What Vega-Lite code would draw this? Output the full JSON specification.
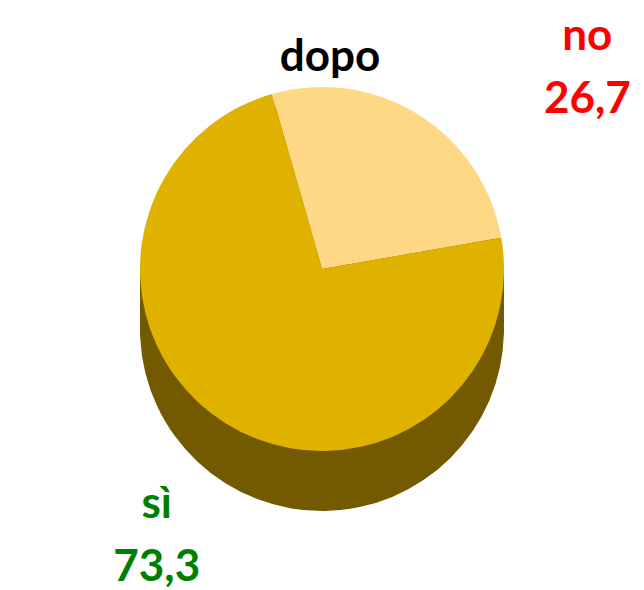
{
  "$schema": "https://vega.github.io/schema/vega-lite/v6.json",
  "width": 644,
  "height": 590,
  "autosize": {"type": "fit", "contains": "padding"},
  "padding": 0,
  "background": "white",
  "title": {"text": "dopo", "fontSize": 44, "font": "Lato", "fontWeight": "bold", "color": "black", "anchor": "middle", "offset": -62, "dx": 8, "dy": 18},
  "config": {
    "view": {"stroke": null},
    "locale": {"number": {"decimal": ",", "thousands": ".", "grouping": [3], "currency": ["", " €"]}}
  },
  "data": {"values": [
    {"esito": "no", "valore": 26.7},
    {"esito": "sì", "valore": 73.3}
  ]},
  "resolve": {"scale": {"theta": "independent", "color": "independent"}},
  "layer": [
    {
      "mark": {"type": "arc", "outerRadius": 182, "yOffset": 35, "color": "#735A00"},
      "encoding": {"theta": {"field": "valore", "type": "quantitative", "stack": true, "scale": {"range": [-0.279, 6.004]}}}
    },
    {
      "mark": {"type": "arc", "outerRadius": 182, "yOffset": 24, "color": "#735A00"},
      "encoding": {"theta": {"field": "valore", "type": "quantitative", "stack": true, "scale": {"range": [-0.279, 6.004]}}}
    },
    {
      "mark": {"type": "arc", "outerRadius": 182, "yOffset": 12, "color": "#735A00"},
      "encoding": {"theta": {"field": "valore", "type": "quantitative", "stack": true, "scale": {"range": [-0.279, 6.004]}}}
    },
    {
      "mark": {"type": "arc", "outerRadius": 182, "yOffset": 0, "color": "#735A00"},
      "encoding": {"theta": {"field": "valore", "type": "quantitative", "stack": true, "scale": {"range": [-0.279, 6.004]}}}
    },
    {
      "mark": {"type": "arc", "outerRadius": 182, "yOffset": -12, "color": "#735A00"},
      "encoding": {"theta": {"field": "valore", "type": "quantitative", "stack": true, "scale": {"range": [-0.279, 6.004]}}}
    },
    {
      "mark": {"type": "arc", "outerRadius": 182, "yOffset": -25},
      "encoding": {
        "theta": {"field": "valore", "type": "quantitative", "stack": true, "scale": {"range": [-0.279, 6.004]}},
        "color": {"field": "esito", "type": "nominal", "scale": {"domain": ["no", "sì"], "range": ["#FED884", "#E0B200"]}, "legend": null}
      }
    },
    {
      "mark": {"type": "text", "radius": 318, "dx": 50, "dy": -10, "baseline": "alphabetic", "align": "center", "font": "Lato", "fontWeight": "bold", "fontSize": 44},
      "encoding": {
        "theta": {"field": "valore", "type": "quantitative", "stack": true, "scale": {"range": [-0.095, 6.188]}},
        "text": {"field": "esito", "type": "nominal"},
        "color": {"field": "esito", "type": "nominal", "scale": {"domain": ["no", "sì"], "range": ["#FF0000", "#008000"]}, "legend": null}
      }
    },
    {
      "mark": {"type": "text", "radius": 318, "dx": 50, "dy": 53, "baseline": "alphabetic", "align": "center", "font": "Lato", "fontWeight": "bold", "fontSize": 44},
      "encoding": {
        "theta": {"field": "valore", "type": "quantitative", "stack": true, "scale": {"range": [-0.095, 6.188]}},
        "text": {"field": "valore", "type": "quantitative", "format": ".1f"},
        "color": {"field": "esito", "type": "nominal", "scale": {"domain": ["no", "sì"], "range": ["#FF0000", "#008000"]}, "legend": null}
      }
    }
  ]
}
